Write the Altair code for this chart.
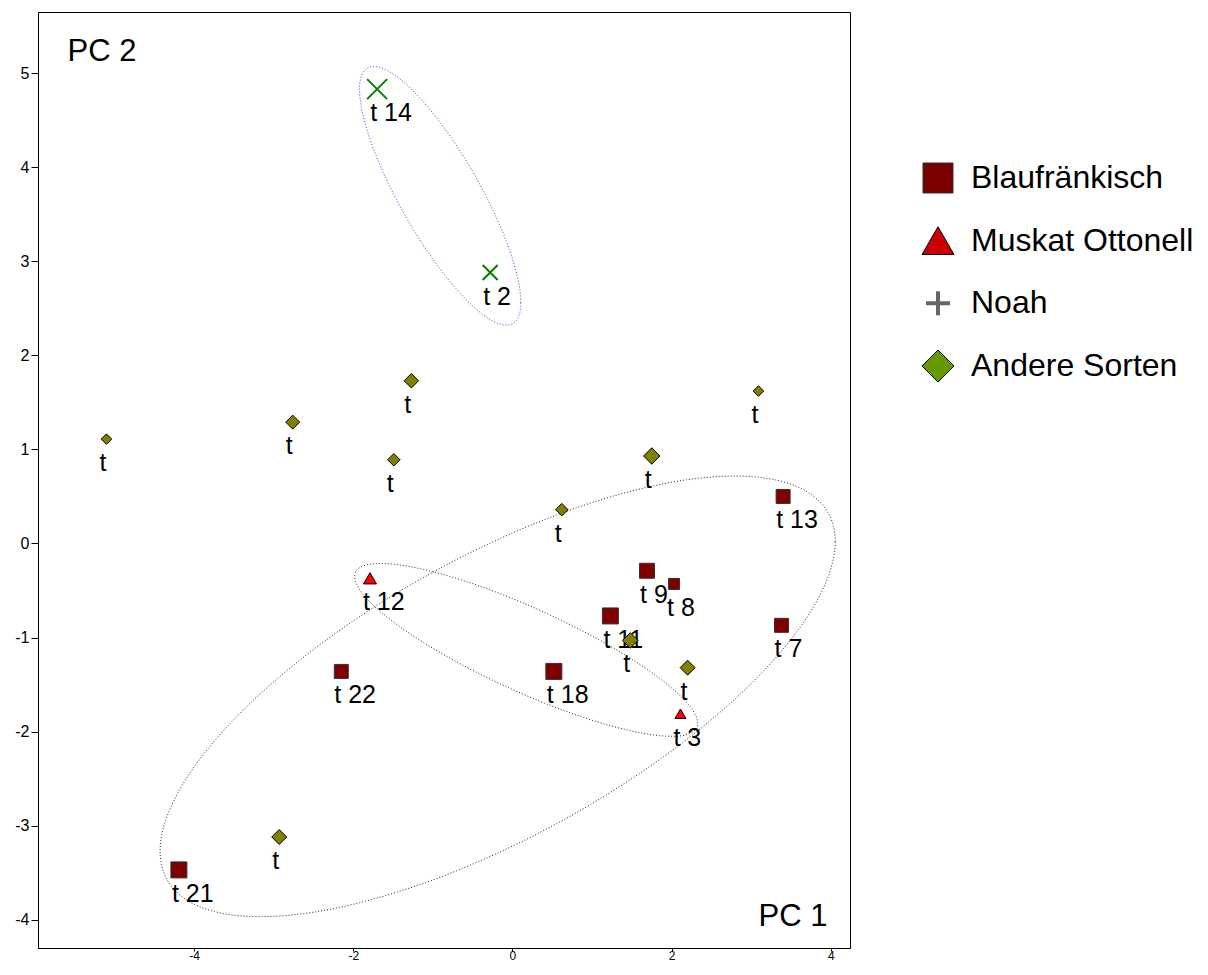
import altair as alt
import numpy as np
import pandas as pd

FONT = "Liberation Sans"

# ---- PCA scores ----
labels = ["t 14", "t 2", "t", "t", "t", "t", "t", "t", "t", "t", "t", "t",
          "t 13", "t 9", "t 8", "t 11", "t 7", "t 18", "t 22", "t 21", "t 12", "t 3"]
groups = (["Noah"] * 2 + ["Andere Sorten"] * 10 + ["Blaufränkisch"] * 8
          + ["Muskat Ottonell"] * 2)
pc1 = [-1.70, -0.28, -5.10, -2.76, -1.27, -1.49, 1.75, 3.09, 0.62, 1.48, 2.20, -2.93,
       3.40, 1.69, 2.03, 1.23, 3.38, 0.52, -2.15, -4.19, -1.79, 2.11]
pc2 = [4.83, 2.88, 1.11, 1.29, 1.73, 0.89, 0.93, 1.62, 0.36, -1.03, -1.32, -3.12,
       0.50, -0.29, -0.43, -0.77, -0.87, -1.36, -1.36, -3.47, -0.37, -1.81]
gewicht = [20, 15, 10.5, 14, 14.5, 12.5, 16.5, 10.5, 12.5, 15.5, 15, 15,
           14, 15, 11, 16, 14, 16, 14, 16, 13, 11]

# ---- group ellipses (centre and covariance, data units) ----
ell_names = ["Noah", "Blaufränkisch", "Muskat Ottonell"]
ell_cx = [-0.908, -0.186, 0.172]
ell_cy = [3.696, -1.625, -1.131]
ell_vx = [1.026, 17.98, 4.642]
ell_vy = [1.892, 5.485, 0.844]
ell_cxy = [-1.148, 6.979, -1.681]
ell_colors = ["#3a3acc", "#222222", "#222222"]

# ---- legend ----
leg_labels = ["Blaufränkisch", "Muskat Ottonell", "Noah", "Andere Sorten"]

x_ticks = [-4, -2, 0, 2, 4]
y_ticks = list(range(-4, 6))

pts = pd.DataFrame({"label": labels, "sorte": groups, "pc1": pc1, "pc2": pc2,
                    "gewicht": gewicht})

rows = []
tt = np.linspace(0, 2 * np.pi, 361)
for name, cx, cy, vx, vy, c in zip(ell_names, ell_cx, ell_cy, ell_vx, ell_vy, ell_cxy):
    L = np.linalg.cholesky(np.array([[vx, c], [c, vy]]))
    p = L @ np.vstack([np.cos(tt), np.sin(tt)])
    for i in range(p.shape[1]):
        rows.append({"gruppe": name, "i": i, "pc1": cx + p[0, i], "pc2": cy + p[1, i]})
ell = pd.DataFrame(rows)

leg = pd.DataFrame({"sorte": leg_labels})

x_enc = alt.X("pc1:Q", scale=alt.Scale(domain=[-5.96, 4.24], nice=False, zero=False),
              axis=alt.Axis(values=x_ticks, labelFontSize=12, labelPadding=-1, tickSize=3,
                            labelExpr="datum.value + ''",
                            title="PC 1", titleX=789, titleY=-23, titleAlign="right",
                            titleBaseline="alphabetic", titleFontSize=31,
                            titleFontWeight="normal", titleFont=FONT, grid=False,
                            labelFlush=False))
y_enc = alt.Y("pc2:Q", scale=alt.Scale(domain=[-4.30, 5.65], nice=False, zero=False),
              axis=alt.Axis(values=y_ticks, labelFontSize=16, labelPadding=2,
                            labelExpr="datum.value + ''",
                            title="PC 2", titleAngle=0, titleX=29, titleY=48,
                            titleAlign="left", titleBaseline="alphabetic",
                            titleFontSize=31, titleFontWeight="normal", titleFont=FONT,
                            grid=False))
size_enc = alt.Size("gewicht:Q", scale=alt.Scale(type="pow", exponent=2, domain=[0, 20],
                                                 range=[0, 400]), legend=None)

ellipses = alt.Chart(ell).mark_line(strokeDash=[1, 2], strokeWidth=1).encode(
    x=x_enc, y=y_enc, detail="gruppe:N", order="i:Q",
    color=alt.Color("gruppe:N", scale=alt.Scale(domain=ell_names, range=ell_colors),
                    legend=None))

base = alt.Chart(pts)
texts = base.mark_text(align="left", baseline="top", dx=-7, dy=12, fontSize=25,
                       font=FONT, color="black").encode(x=x_enc, y=y_enc, text="label:N")
squares = base.transform_filter(alt.datum.sorte == "Blaufränkisch").mark_point(
    shape="square", filled=True, fill="#800000", stroke="#333333", strokeWidth=1,
    opacity=1).encode(x=x_enc, y=y_enc, size=size_enc)
tris = base.transform_filter(alt.datum.sorte == "Muskat Ottonell").mark_point(
    shape="triangle-up", filled=True, fill="#ff0000", stroke="#000000", strokeWidth=1,
    opacity=1).encode(x=x_enc, y=y_enc, size=size_enc)
diamonds = base.transform_filter(alt.datum.sorte == "Andere Sorten").mark_point(
    shape="diamond", filled=True, fill="#808000", stroke="#000000", strokeWidth=1,
    opacity=1).encode(x=x_enc, y=y_enc, size=size_enc)
crosses = base.transform_filter(alt.datum.sorte == "Noah").mark_point(
    shape="M-1,-1L1,1M-1,1L1,-1", filled=False, stroke="#008000", strokeWidth=2,
    opacity=1).encode(x=x_enc, y=y_enc, size=size_enc)

main = alt.layer(ellipses, texts, squares, tris, diamonds, crosses)

ly = alt.Y("sorte:N", scale=alt.Scale(type="point", domain=leg_labels,
                                      range=[166, 354], padding=0), axis=None)
lbase = alt.Chart(leg)
l_sq = lbase.transform_filter(alt.datum.sorte == "Blaufränkisch").mark_point(
    shape="square", filled=True, fill="#7a0000", stroke="#333333", strokeWidth=1,
    opacity=1, size=900).encode(x=alt.value(900), y=ly)
l_tri = lbase.transform_filter(alt.datum.sorte == "Muskat Ottonell").mark_point(
    shape="triangle-up", filled=True, fill="#cc0000", stroke="#000000", strokeWidth=1,
    opacity=1, size=1024).encode(x=alt.value(900), y=ly)
l_plus = lbase.transform_filter(alt.datum.sorte == "Noah").mark_point(
    shape="M-1,0L1,0M0,-1L0,1", filled=False, stroke="#666666", strokeWidth=4,
    opacity=1, size=576).encode(x=alt.value(900), y=ly)
l_dia = lbase.transform_filter(alt.datum.sorte == "Andere Sorten").mark_point(
    shape="diamond", filled=True, fill="#669900", stroke="#000000", strokeWidth=1,
    opacity=1, size=1024).encode(x=alt.value(900), y=ly)
l_txt = lbase.mark_text(align="left", baseline="middle", fontSize=32, font=FONT,
                        color="black").encode(x=alt.value(933), y=ly, text="sorte:N")
legend = alt.layer(l_sq, l_tri, l_plus, l_dia, l_txt)

chart = alt.layer(main, legend).resolve_scale(y="independent").properties(
    width=812, height=936,
    autosize=alt.AutoSizeParams(type="none"),
    padding={"left": 30, "top": 4, "right": 350, "bottom": 13},
).configure_view(stroke="black", strokeWidth=1).configure_axis(
    domainColor="black", tickColor="black", labelColor="black", tickSize=7,
    labelFont=FONT, grid=False, domainWidth=1, tickWidth=1)

chart.save("out.html", embed_options={"renderer": "svg", "actions": False})
